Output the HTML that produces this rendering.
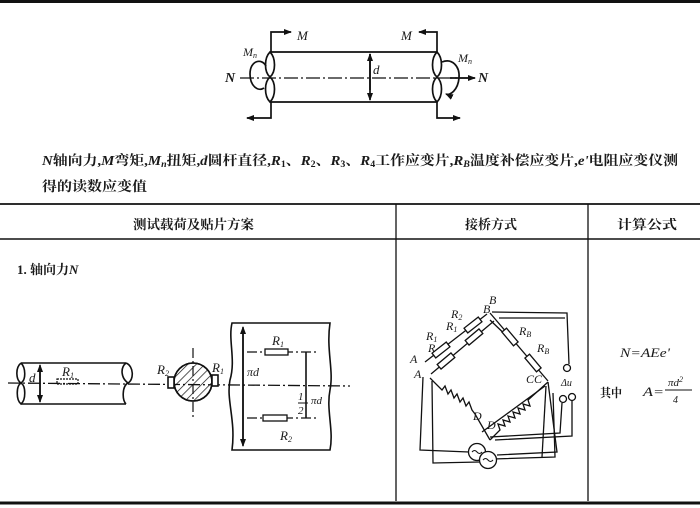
<!DOCTYPE html>
<html><head><meta charset="utf-8"><style>
html,body{margin:0;padding:0;background:#fff;}
svg{display:block;}
.cj{font-family:"Liberation Serif","Noto Serif CJK SC","Noto Sans CJK SC",serif;fill:#1a1a1a;font-weight:bold;}
.it{font-family:"Liberation Serif",serif;font-style:italic;fill:#1a1a1a;}
</style></head><body>
<svg width="700" height="508" viewBox="0 0 700 508" xmlns="http://www.w3.org/2000/svg">
<defs>
<pattern id="hat" width="6" height="6" patternUnits="userSpaceOnUse" patternTransform="rotate(45)">
<line x1="0" y1="0" x2="0" y2="6" stroke="#111" stroke-width="1.4"/>
</pattern>
<marker id="ar" markerWidth="8" markerHeight="6" refX="7" refY="3" orient="auto" markerUnits="userSpaceOnUse">
<path d="M0,0 L8,3 L0,6 Z" fill="#111"/>
</marker>
</defs>
<rect width="700" height="508" fill="#fff"/>
<!-- top border -->
<line x1="0" y1="1.5" x2="700" y2="1.5" stroke="#111" stroke-width="3"/>

<!-- ================= top figure ================= -->
<g stroke="#111" fill="none" stroke-width="1.7">
<line x1="270" y1="52" x2="437" y2="52"/>
<line x1="270" y1="102" x2="437" y2="102"/>
<path d="M270,52 C264,58 264,72 270,77 C276,82 276,96 270,102 C264,96 264,82 270,77 C276,72 276,58 270,52Z"/>
<path d="M437,52 C431,58 431,72 437,77 C443,82 443,96 437,102 C431,96 431,82 437,77 C443,72 443,58 437,52Z"/>
<!-- M arms -->
<polyline points="271,52 271,32 291,32" marker-end="url(#ar)"/>
<polyline points="271,102 271,118 247,118" marker-end="url(#ar)"/>
<polyline points="437,52 437,32 419,32" marker-end="url(#ar)"/>
<polyline points="437,102 437,118 460,118" marker-end="url(#ar)"/>
<!-- d dim -->
<line x1="370" y1="54" x2="370" y2="100" marker-end="url(#ar)"/>
<line x1="370" y1="90" x2="370" y2="54" marker-end="url(#ar)"/>
<!-- center line -->
<line x1="240" y1="78" x2="470" y2="78" stroke-dasharray="14,3,2,3" stroke-width="1.3"/>
<line x1="450" y1="78" x2="475" y2="78" marker-end="url(#ar)"/>
<!-- torque loops -->
<path d="M266,66 C262,58 250,60 250,74 C250,86 258,92 264,88"/>
<path d="M442,62 C452,58 460,66 459,78 C458,90 450,96 446,94" marker-end="url(#ar)"/>
</g>
<text x="297" y="40" class="it" font-size="13">M</text>
<text x="401" y="40" class="it" font-size="13">M</text>
<text x="243" y="56" class="it" font-size="12">M<tspan font-size="8" dy="2">n</tspan></text>
<text x="458" y="62" class="it" font-size="12">M<tspan font-size="8" dy="2">n</tspan></text>
<text x="225" y="82" class="it" font-size="14" font-weight="bold">N</text>
<text x="478" y="82" class="it" font-size="14" font-weight="bold">N</text>
<text x="373" y="74" class="it" font-size="13">d</text>

<!-- ================= caption ================= -->
<text x="42" y="165" class="cj" font-size="13.5" textLength="636" lengthAdjust="spacingAndGlyphs"><tspan class="it">N</tspan>轴向力,<tspan class="it">M</tspan>弯矩,<tspan class="it">M<tspan font-size="9" dy="2">n</tspan></tspan><tspan dy="-2">扭矩,</tspan><tspan class="it">d</tspan>圆杆直径,<tspan class="it">R</tspan><tspan font-size="9" dy="2">1</tspan><tspan dy="-2">、</tspan><tspan class="it">R</tspan><tspan font-size="9" dy="2">2</tspan><tspan dy="-2">、</tspan><tspan class="it">R</tspan><tspan font-size="9" dy="2">3</tspan><tspan dy="-2">、</tspan><tspan class="it">R</tspan><tspan font-size="9" dy="2">4</tspan><tspan dy="-2">工作应变片,</tspan><tspan class="it">R</tspan><tspan font-size="9" dy="2" class="it">B</tspan><tspan dy="-2">温度补偿应变片,</tspan><tspan class="it">e'</tspan>电阻应变仪测</text>
<text x="42" y="191" class="cj" font-size="13.5" textLength="105" lengthAdjust="spacingAndGlyphs">得的读数应变值</text>

<!-- ================= table ================= -->
<g stroke="#111" fill="none">
<line x1="0" y1="204" x2="700" y2="204" stroke-width="1.8"/>
<line x1="0" y1="239" x2="700" y2="239" stroke-width="1.6"/>
<line x1="0" y1="503" x2="700" y2="503" stroke-width="3"/>
<line x1="396" y1="204" x2="396" y2="501" stroke-width="1.3"/>
<line x1="588" y1="204" x2="588" y2="501" stroke-width="1.3"/>
</g>
<text x="133" y="229" class="cj" font-size="13" textLength="121" lengthAdjust="spacingAndGlyphs">测试载荷及贴片方案</text>
<text x="465" y="229" class="cj" font-size="13" textLength="52" lengthAdjust="spacingAndGlyphs">接桥方式</text>
<text x="617" y="229" class="cj" font-size="13" textLength="60" lengthAdjust="spacingAndGlyphs">计算公式</text>
<text x="17" y="274" class="cj" font-size="13">1.  轴向力<tspan class="it" font-weight="bold">N</tspan></text>

<!-- ================= section 1 left drawings ================= -->
<g stroke="#111" fill="none" stroke-width="1.6">
<!-- cylinder -->
<line x1="21" y1="363" x2="126" y2="363"/>
<line x1="21" y1="404" x2="126" y2="404"/>
<path d="M21,363 C15,368 16,380 21,383 C26,386 26,400 21,404 C16,400 16,386 21,383 C26,380 26,368 21,363"/>
<path d="M126,363 C134,366 134,380 128,383 C122,386 122,400 126,404"/>
<path d="M126,363 C120,368 121,378 128,383"/>
<line x1="40" y1="370" x2="40" y2="402" marker-end="url(#ar)"/>
<line x1="40" y1="395" x2="40" y2="365" marker-end="url(#ar)"/>
<rect x="57" y="379" width="21" height="5" stroke-width="1.2" stroke-dasharray="2,1"/>
<!-- center line -->
<line x1="8" y1="383" x2="350" y2="386" stroke-dasharray="12,3,2,3" stroke-width="1.3"/>
<!-- circle -->
<circle cx="193" cy="382" r="19" fill="url(#hat)"/>
<circle cx="193" cy="382" r="19"/>
<line x1="193" y1="348" x2="193" y2="418" stroke-dasharray="10,3,2,3" stroke-width="1.2"/>
<rect x="168" y="377" width="6" height="11" fill="#fff"/>
<rect x="212" y="375" width="6" height="11" fill="#fff"/>
<!-- developed surface -->
<path d="M232,323 C228,340 236,360 230,380 C226,400 236,420 232,450 L330,450 C334,430 326,410 330,390 C334,370 326,350 330,323 Z"/>
<line x1="243" y1="330" x2="243" y2="446" marker-end="url(#ar)"/>
<line x1="243" y1="440" x2="243" y2="327" marker-end="url(#ar)"/>
<line x1="247" y1="352" x2="316" y2="352" stroke-dasharray="10,3,2,3" stroke-width="1.2"/>
<line x1="247" y1="418" x2="318" y2="418" stroke-dasharray="10,3,2,3" stroke-width="1.2"/>
<rect x="265" y="349" width="23" height="6" fill="#fff" stroke-width="1.3"/>
<rect x="263" y="415" width="24" height="6" fill="#fff" stroke-width="1.3"/>
<line x1="306" y1="352" x2="306" y2="418"/>
<line x1="298" y1="403" x2="308" y2="403" stroke-width="1"/>
</g>
<text x="62" y="376" class="it" font-size="13">R<tspan font-size="8" dy="2">1</tspan></text>
<text x="29" y="382" class="it" font-size="13">d</text>
<text x="157" y="374" class="it" font-size="13">R<tspan font-size="8" dy="2">2</tspan></text>
<text x="212" y="372" class="it" font-size="13">R<tspan font-size="8" dy="2">1</tspan></text>
<text x="247" y="376" class="it" font-size="12">πd</text>
<text x="272" y="345" class="it" font-size="13">R<tspan font-size="8" dy="2">1</tspan></text>
<text x="280" y="440" class="it" font-size="13">R<tspan font-size="8" dy="2">2</tspan></text>
<text x="298" y="400" class="it" font-size="11">1</text>
<text x="298" y="414" class="it" font-size="11">2</text>
<text x="311" y="404" class="it" font-size="11">πd</text>

<!-- ================= bridge ================= -->
<g stroke="#111" fill="none" stroke-width="1.3">
<!-- upper-left strands -->
<line x1="425" y1="362" x2="487" y2="314"/>
<line x1="431" y1="374" x2="494" y2="321"/>
<g fill="#fff">
<rect x="-9" y="-3" width="18" height="6" transform="translate(441,350) rotate(-38)"/>
<rect x="-9" y="-3" width="18" height="6" transform="translate(473,325) rotate(-38)"/>
<rect x="-9" y="-3" width="18" height="6" transform="translate(446,361) rotate(-40)"/>
<rect x="-9" y="-3" width="18" height="6" transform="translate(474,337) rotate(-40)"/>
</g>
<!-- upper-right strands -->
<line x1="490" y1="313" x2="548" y2="381"/>
<line x1="490" y1="320" x2="514" y2="343"/>
<g fill="#fff">
<rect x="-9" y="-3" width="18" height="6" transform="translate(510,337) rotate(50)"/>
<rect x="-9" y="-3" width="18" height="6" transform="translate(533,363) rotate(50)"/>
</g>
<!-- lower-left -->
<polyline points="430,378 442,390 445,386 448,394 451,390 454,398 457,394 460,402 463,398 466,406 469,402 472,410 475,414 490,440"/>
<!-- lower-right -->
<polyline points="490,440 500,430 498,424 505,426 503,420 510,422 508,416 515,418 513,412 520,414 518,408 525,410 523,404 530,406 528,400 548,382"/>
<line x1="482" y1="432" x2="545" y2="386"/>
<!-- wires -->
<polyline points="492,312 567,313 569,364"/>
<polyline points="499,318 565,318"/>
<circle cx="567" cy="368" r="3.5"/>
<circle cx="563" cy="399" r="3.5"/>
<circle cx="572" cy="397" r="3.5"/>
<polyline points="562,403 560,433 490,437"/>
<polyline points="572,401 572,436 495,440"/>
<polyline points="548,382 557,452 497,455"/>
<polyline points="546,386 542,457"/>
<polyline points="423,377 420,450 469,452"/>
<polyline points="432,381 433,463 480,462"/>
<polyline points="493,459 555,457 553,393"/>
<circle cx="477" cy="452" r="8.5" fill="#fff"/>
<circle cx="488" cy="460" r="8.5" fill="#fff"/>
<path d="M472,452 q2.5,-3 5,0 t5,0" stroke-width="1"/>
<path d="M483,460 q2.5,-3 5,0 t5,0" stroke-width="1"/>
</g>
<g class="it" font-size="12">
<text x="489" y="304">B</text>
<text x="483" y="313">B</text>
<text x="451" y="318">R<tspan font-size="8" dy="2">2</tspan></text>
<text x="446" y="330">R<tspan font-size="8" dy="2">1</tspan></text>
<text x="426" y="340">R<tspan font-size="8" dy="2">1</tspan></text>
<text x="428" y="352">R</text>
<text x="410" y="363">A</text>
<text x="414" y="378">A</text>
<text x="519" y="335">R<tspan font-size="8" dy="2">B</tspan></text>
<text x="537" y="352">R<tspan font-size="8" dy="2">B</tspan></text>
<text x="526" y="383">CC</text>
<text x="561" y="386" font-size="10">Δu</text>
<text x="473" y="420">D</text>
<text x="487" y="429">D</text>
</g>

<!-- ================= formula ================= -->
<text x="620" y="357" class="it" font-size="13" textLength="50" lengthAdjust="spacingAndGlyphs">N=AEe'</text>
<text x="600" y="397" class="cj" font-size="12" textLength="22" lengthAdjust="spacingAndGlyphs">其中</text>
<text x="643" y="396" class="it" font-size="13" textLength="21" lengthAdjust="spacingAndGlyphs">A=</text>
<text x="668" y="386" class="it" font-size="11">πd<tspan font-size="8" dy="-4">2</tspan></text>
<line x1="665" y1="390" x2="692" y2="390" stroke="#111" stroke-width="0.9"/>
<text x="673" y="403" class="it" font-size="10">4</text>
</svg>
</body></html>
